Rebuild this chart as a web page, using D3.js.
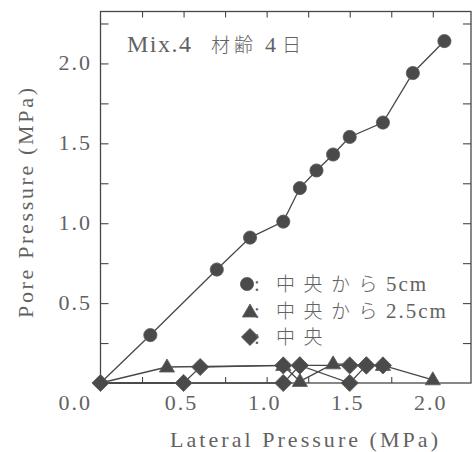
<!DOCTYPE html>
<html><head><meta charset="utf-8">
<script src="https://cdn.jsdelivr.net/npm/d3@7"></script>
<style>
html,body{margin:0;padding:0;background:#fff;}
svg{display:block;}
</style></head>
<body>
<svg id="chart" width="475" height="452"></svg>
<script>
// ---- data ----
// 中央から5cm (circles)
const x5 = [0, 0.3, 0.7, 0.9, 1.1, 1.2, 1.3, 1.4, 1.5, 1.7, 1.88, 2.07];
const y5 = [0, 0.30, 0.71, 0.91, 1.01, 1.22, 1.33, 1.43, 1.54, 1.63, 1.94, 2.14];
// 中央から2.5cm (triangles)
const x25 = [0, 0.4, 1.1, 1.2, 1.4, 1.7, 2.0];
const y25 = [0, 0.10, 0.11, 0.01, 0.12, 0.11, 0.02];
// 中央 (diamonds) - two runs
const x0a = [0, 0.5, 0.6, 1.1, 1.2, 1.5, 1.6, 1.7];
const y0a = [0, 0.00, 0.10, 0.11, 0.11, 0.11, 0.11, 0.11];
const x0b = [0, 1.1, 1.2, 1.5, 1.6];
const y0b = [0, 0.00, 0.11, 0.00, 0.11];

const xMinorTicks = [0.25, 0.5, 0.75, 1.0, 1.25, 1.5, 1.75, 2.0];
const yMinorTicks = [0.25, 0.5, 0.75, 1.0, 1.25, 1.5, 1.75, 2.0, 2.25];
const xTickLabels = [0.5, 1.0, 1.5, 2.0];
const yTickLabels = [0.0, 0.5, 1.0, 1.5, 2.0];

const legendMarks = ["circle", "triangle", "diamond"];
const legendCJK = ["中央から", "中央から", "中央"];
const legendLatin = ["5cm", "2.5cm", ""];

const xTitle = "Lateral Pressure (MPa)";
const yTitle = "Pore Pressure (MPa)";

// ---- drawing ----
const svg = d3.select("#chart");
const L = 100.5, R = 471, T = 11.5, B = 383;
const x = d3.scaleLinear().domain([0, 2.23]).range([L, R]);
const y = d3.scaleLinear().domain([0, 2.325]).range([B, T]);

const ink = "#474747";
const txt = "#626262";
const serif = "'Liberation Serif','Times New Roman',serif";
const cjk = "'Noto Sans CJK JP','Noto Sans CJK SC',sans-serif";

svg.append("rect").attr("width", 475).attr("height", 452).attr("fill", "#fff");

// ticks
function tickAxis(axis, tx, ty) {
  const g = svg.append("g").attr("transform", `translate(${tx},${ty})`).call(axis);
  g.select(".domain").remove();
  g.selectAll("line").attr("stroke", ink).attr("stroke-width", 1.1);
  g.selectAll("text").remove();
}
tickAxis(d3.axisBottom(x).tickValues(xMinorTicks).tickSize(-6).tickFormat(""), 0, B);
tickAxis(d3.axisTop(x).tickValues(xMinorTicks).tickSize(-6).tickFormat(""), 0, T);
tickAxis(d3.axisLeft(y).tickValues(yMinorTicks).tickSize(-8).tickFormat(""), L, 0);
tickAxis(d3.axisRight(y).tickValues(yMinorTicks).tickSize(-8).tickFormat(""), R, 0);

// frame
svg.append("rect").attr("x", L).attr("y", T).attr("width", R - L).attr("height", B - T)
  .attr("fill", "none").attr("stroke", ink).attr("stroke-width", 1.3);

// tick labels
svg.append("g").selectAll("text").data(xTickLabels).join("text")
  .attr("x", d => x(d) - 2).attr("y", B + 27)
  .attr("text-anchor", "middle")
  .attr("font-family", serif).attr("font-size", 22).attr("letter-spacing", 2)
  .attr("fill", txt).text(d => d3.format(".1f")(d));
svg.append("g").selectAll("text").data(yTickLabels).join("text")
  .attr("x", 92).attr("y", d => d === 0 ? B + 27 : y(d) + 7)
  .attr("text-anchor", "end")
  .attr("font-family", serif).attr("font-size", 22).attr("letter-spacing", 2)
  .attr("fill", txt).text(d => d3.format(".1f")(d));

// axis titles
svg.append("text").attr("x", 170).attr("y", 447)
  .attr("font-family", serif).attr("font-size", 22)
  .attr("textLength", 268).attr("lengthAdjust", "spacing")
  .attr("fill", txt).text(xTitle);
svg.append("text").attr("transform", "translate(33,203) rotate(-90)")
  .attr("text-anchor", "middle")
  .attr("font-family", serif).attr("font-size", 22)
  .attr("textLength", 230).attr("lengthAdjust", "spacing")
  .attr("fill", txt).text(yTitle);

// chart title
const tt = svg.append("text").attr("y", 52).attr("fill", txt);
tt.append("tspan").attr("x", 127).attr("font-family", serif).attr("font-size", 24).attr("letter-spacing", 1.5).text("Mix.4");
tt.append("tspan").attr("x", 211).attr("font-family", cjk).attr("font-size", 19).attr("font-weight", 300).attr("letter-spacing", 4).text("材齢");
tt.append("tspan").attr("x", 265).attr("font-family", serif).attr("font-size", 22).text("4");
tt.append("tspan").attr("x", 282).attr("font-family", cjk).attr("font-size", 19).attr("font-weight", 300).text("日");

// lines
const line = d3.line().x(d => x(d[0])).y(d => y(d[1]));
const zip = (a, b) => a.map((v, i) => [v, b[i]]);
const paths = [zip(x5, y5), zip(x25, y25), zip(x0a, y0a), zip(x0b, y0b)];
svg.append("g").selectAll("path").data(paths).join("path")
  .attr("d", line).attr("fill", "none").attr("stroke", ink).attr("stroke-width", 1.3);

// markers
const shapes = {
  circle: "M6.6,0A6.6,6.6 0 1,1 -6.6,0A6.6,6.6 0 1,1 6.6,0Z",
  triangle: "M0,-8L7.6,5L-7.6,5Z",
  diamond: "M0,-8.6L8.6,0L0,8.6L-8.6,0Z"
};
const mark = "#4a4a4a";
function drawMarks(pts, shape) {
  svg.append("g").selectAll("path").data(pts).join("path")
    .attr("d", shapes[shape])
    .attr("transform", d => `translate(${x(d[0])},${y(d[1])})`)
    .attr("fill", mark).attr("stroke", "#5a5a5a").attr("stroke-width", 0.8);
}
drawMarks(zip(x5, y5).filter(d => d[0] > 0), "circle");
drawMarks(zip(x25, y25).filter(d => d[0] > 0), "triangle");
drawMarks(zip(x0a, y0a), "diamond");
drawMarks(zip(x0b, y0b).filter(d => d[0] > 0), "diamond");

// legend
const legY = [284, 311, 337];
legendMarks.forEach((m, i) => {
  svg.append("path").attr("d", shapes[m])
    .attr("transform", `translate(${m === "circle" ? 247 : 250},${legY[i] + (m === "triangle" ? 1 : 0)})`)
    .attr("fill", mark).attr("stroke", "#5a5a5a").attr("stroke-width", 0.8);
  const t = svg.append("text").attr("y", legY[i] + 7).attr("fill", txt);
  t.append("tspan").attr("x", 254).attr("font-family", serif).attr("font-size", 21).text(":");
  t.append("tspan").attr("x", 276).attr("font-family", cjk).attr("font-size", 19).attr("font-weight", 300)
    .attr("letter-spacing", 8.5).text(legendCJK[i]);
  if (legendLatin[i]) {
    t.append("tspan").attr("font-family", serif).attr("font-size", 21).attr("letter-spacing", 2)
      .text(legendLatin[i]);
  }
});
</script>
</body></html>
